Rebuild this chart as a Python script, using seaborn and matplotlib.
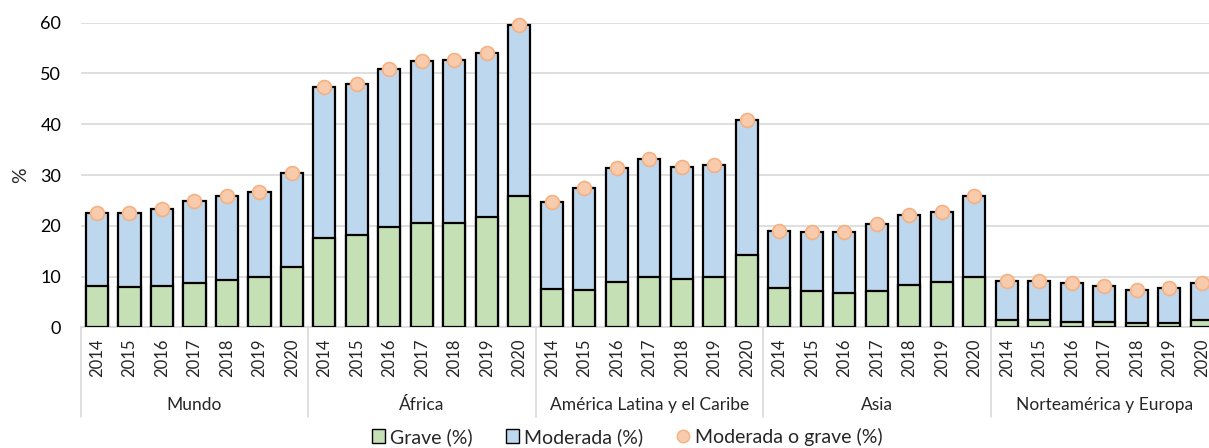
import matplotlib
matplotlib.use("Agg")
import matplotlib.pyplot as plt
import matplotlib.transforms as mtransforms
from matplotlib.patches import Patch
from matplotlib.lines import Line2D
import seaborn as sns
import pandas as pd

regions = ["Mundo", "África", "América Latina y el Caribe", "Asia", "Norteamérica y Europa"]
years = ["2014", "2015", "2016", "2017", "2018", "2019", "2020"]

grave = {
    "Mundo": [8.2, 7.9, 8.2, 8.7, 9.4, 10.0, 11.9],
    "África": [17.6, 18.2, 19.7, 20.5, 20.5, 21.8, 25.8],
    "América Latina y el Caribe": [7.6, 7.4, 9.0, 10.0, 9.5, 10.0, 14.2],
    "Asia": [7.7, 7.1, 6.8, 7.1, 8.4, 9.0, 10.0],
    "Norteamérica y Europa": [1.4, 1.4, 1.1, 1.1, 0.8, 0.8, 1.4],
}
moderada_o_grave = {
    "Mundo": [22.6, 22.6, 23.4, 24.8, 25.8, 26.6, 30.3],
    "África": [47.4, 47.9, 50.8, 52.4, 52.6, 54.1, 59.5],
    "América Latina y el Caribe": [24.7, 27.4, 31.3, 33.1, 31.6, 31.9, 40.8],
    "Asia": [19.0, 18.8, 18.8, 20.3, 22.2, 22.7, 25.8],
    "Norteamérica y Europa": [9.2, 9.2, 8.7, 8.2, 7.4, 7.7, 8.7],
}

rows = []
for r in regions:
    for i, y in enumerate(years):
        g = grave[r][i]
        t = moderada_o_grave[r][i]
        rows.append({"slot": f"{r} {y}", "region": r, "year": y,
                     "grave": g, "moderada": t - g, "total": t})
df = pd.DataFrame(rows)
order = list(df["slot"])

GREEN = "#c5e0b4"
BLUE = "#bdd7ee"
ORANGE = "#f8cbad"
ORANGE_EDGE = "#f4b183"
GRID = "#d9d9d9"

sns.set_style("white")
plt.rcParams["font.family"] = ["Lato", "DejaVu Sans"]

fig = plt.figure(figsize=(12.09, 4.48), dpi=100)
W, H = 1209, 448
left = 80.75 / W
right = 1218 / W
bottom = 1 - 327.3 / H
top = 1 - 22.7 / H
ax = fig.add_axes([left, bottom, right - left, top - bottom])

# stacked bars: full (moderada o grave) in blue, grave in green over it
sns.barplot(data=df, x="slot", y="total", order=order, color=BLUE, saturation=1,
            width=0.68, edgecolor="black", linewidth=1.6, ax=ax, zorder=3)
sns.barplot(data=df, x="slot", y="grave", order=order, color=GREEN, saturation=1,
            width=0.68, edgecolor="black", linewidth=1.6, ax=ax, zorder=4)
sns.stripplot(data=df, x="slot", y="total", order=order, jitter=False, size=10,
              color=ORANGE, edgecolor=ORANGE_EDGE, linewidth=1.2, ax=ax, zorder=6)
for c in ax.collections:
    c.set_clip_on(False)

ax.set_xlim(-0.5, len(order) - 0.5)
ax.set_ylim(0, 60)
ax.set_yticks(range(0, 61, 10))
ax.yaxis.grid(True, color=GRID, linewidth=1.2, zorder=0)
ax.set_axisbelow(True)
for s in ["left", "top", "right"]:
    ax.spines[s].set_visible(False)
ax.spines["bottom"].set_color(GRID)
ax.spines["bottom"].set_linewidth(1.2)
ax.tick_params(axis="y", length=0, pad=14, labelsize=13, labelcolor="#000000")
ax.set_xticks(range(len(order)))
ax.set_xticklabels(list(df["year"]), rotation=90, fontsize=12)
ax.tick_params(axis="x", length=0, pad=8)
ax.set_xlabel("")
ax.set_ylabel("")

trans = mtransforms.blended_transform_factory(ax.transData, ax.transAxes)
n = len(years)
for k in range(len(regions) + 1):
    xs = k * n - 0.5
    ax.plot([xs, xs], [0, -0.295], transform=trans, color=GRID, linewidth=1.2, clip_on=False)
for k, r in enumerate(regions):
    ax.text(k * n + (n - 1) / 2, -0.255, r, transform=trans, ha="center", va="center",
            fontsize=12.5)

fig.text(21 / W, 1 - 175 / H, "%", rotation=90, ha="center", va="center", fontsize=14)

handles = [
    Patch(facecolor=GREEN, edgecolor="black", linewidth=1.0, label="Grave (%)"),
    Patch(facecolor=BLUE, edgecolor="black", linewidth=1.0, label="Moderada (%)"),
    Line2D([0], [0], marker="o", linestyle="none", markersize=9, markerfacecolor=ORANGE,
           markeredgecolor=ORANGE_EDGE, label="Moderada o grave (%)"),
]
fig.legend(handles=handles, loc="center", bbox_to_anchor=(627 / W, 1 - 437 / H), ncol=3,
           frameon=False, fontsize=14, handlelength=0.7, handleheight=0.7,
           handletextpad=0.25, columnspacing=1.7, borderaxespad=0, borderpad=0)

fig.savefig("out.png", dpi=100)
